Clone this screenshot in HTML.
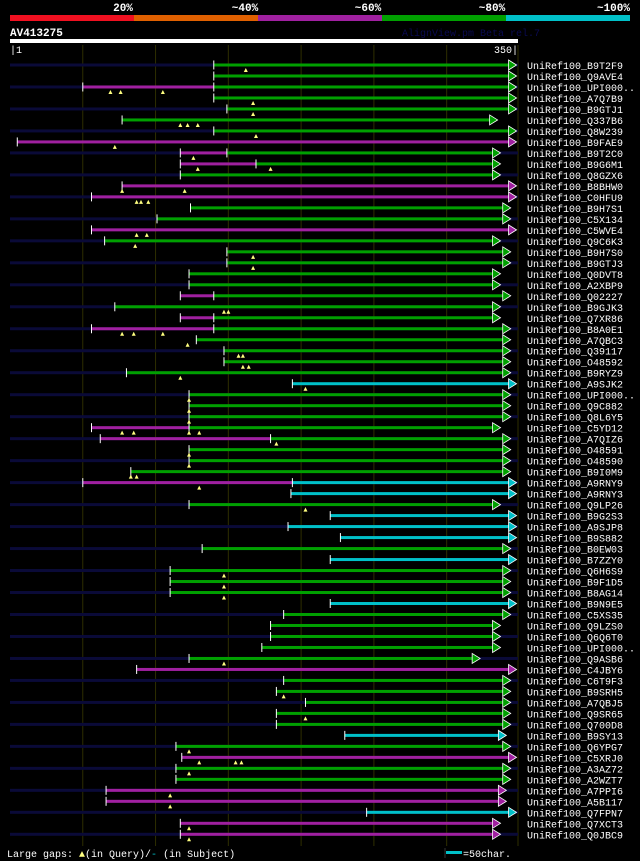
<!DOCTYPE html>
<html><head><meta charset="utf-8"><style>
html,body{margin:0;padding:0;background:#000;}
svg{display:block;}
text{font-family:"Liberation Mono","DejaVu Sans Mono",monospace;}
</style></head><body>
<svg id="chart" width="640" height="861" xmlns="http://www.w3.org/2000/svg">
<rect x="0" y="0" width="640" height="861" fill="#000"/>
<g>
<rect x="10" y="15" width="124" height="6" fill="#f01020"/>
<rect x="134" y="15" width="124" height="6" fill="#e06000"/>
<rect x="258" y="15" width="124" height="6" fill="#a020a0"/>
<rect x="382" y="15" width="124" height="6" fill="#00a000"/>
<rect x="506" y="15" width="124" height="6" fill="#00c0c8"/>
<text x="123" y="11" fill="#fff" font-size="11" font-weight="bold" text-anchor="middle">20%</text>
<text x="245" y="11" fill="#fff" font-size="11" font-weight="bold" text-anchor="middle">~40%</text>
<text x="368" y="11" fill="#fff" font-size="11" font-weight="bold" text-anchor="middle">~60%</text>
<text x="492" y="11" fill="#fff" font-size="11" font-weight="bold" text-anchor="middle">~80%</text>
<text x="630" y="11" fill="#fff" font-size="11" font-weight="bold" text-anchor="end">~100%</text>
</g>
<text x="10" y="36" fill="#fff" font-size="11" font-weight="bold">AV413275</text>
<text x="402" y="36" fill="#0a0a50" font-size="10">AlignView.pm Beta rel.7</text>
<rect x="10" y="39" width="508" height="4" fill="#fff"/>
<text x="10" y="53" fill="#fff" font-size="10">|1</text>
<text x="518" y="53" fill="#fff" font-size="10" text-anchor="end">350|</text>
<g id="grid"></g>
<g id="rows"></g>
<g>
<text x="7" y="857" fill="#fff" font-size="10">Large gaps: <tspan fill="#ffff80">▲</tspan>(in Query)/<tspan fill="#00c0c8">-</tspan> (in Subject)</text>
<line x1="445" y1="848" x2="445" y2="858" stroke="#333"/>
<rect x="446" y="851" width="16" height="3" fill="#00c0c8"/>
<text x="463" y="857" fill="#fff" font-size="10">=50char.</text>
</g>
</svg>
<script>
const names=["B9T2F9","Q9AVE4","UPI000..","A7Q7B9","B9GTJ1","Q337B6","Q8W239","B9FAE9","B9T2C0","B9G6M1","Q8GZX6","B8BHW0","C0HFU9","B9H7S1","C5X134","C5WVE4","Q9C6K3","B9H7S0","B9GTJ3","Q0DVT8","A2XBP9","Q02227","B9GJK3","Q7XR86","B8A0E1","A7QBC3","Q39117","O48592","B9RYZ9","A9SJK2","UPI000..","Q9C882","Q8L6Y5","C5YD12","A7QIZ6","O48591","O48590","B9I0M9","A9RNY9","A9RNY3","Q9LP26","B9G2S3","A9SJP8","B9S882","B0EW03","B7ZZY0","Q6H6S9","B9F1D5","B8AG14","B9N9E5","C5XS35","Q9LZS0","Q6Q6T0","UPI000..","Q9ASB6","C4JBY6","C6T9F3","B9SRH5","A7QBJ5","Q9SR65","Q700D8","B9SY13","Q6YPG7","C5XRJ0","A3AZ72","A2WZT7","A7PPI6","A5B117","Q7FPN7","Q7XCT3","Q0JBC9"];
// alignment start / color switch / end positions (query coords 1..350)
const starts=[141,141,51,141,150,78,141,6,118,118,118,78,57,125,102,57,66,150,150,124,124,118,73,118,57,129,148,148,81,195,124,124,124,57,63,124,124,84,51,194,124,221,192,228,133,221,111,111,111,221,189,180,180,174,124,88,189,184,204,184,184,231,115,119,115,115,67,67,246,118,118];
const switches=[0,0,141,0,0,0,0,0,150,170,0,0,0,0,0,0,0,0,0,0,0,141,0,141,141,0,0,0,0,0,0,0,0,124,180,0,0,0,195,0,0,0,0,0,0,0,0,0,0,0,0,0,0,0,0,0,0,0,0,0,0,0,0,0,0,0,0,0,0,0,0];
const ends=[349,349,349,349,349,336,349,349,338,338,338,349,349,345,345,349,338,345,345,338,338,345,338,338,345,345,345,345,345,349,345,345,345,338,345,345,345,345,349,349,338,349,349,349,345,349,345,345,345,349,345,338,338,338,324,349,345,345,345,345,345,342,345,349,345,345,342,342,349,338,338];
// colour index: 0 green, 1 purple, 2 cyan ; preColors used before switch position
const colors=[0,0,0,0,0,0,0,1,0,0,0,1,1,0,0,1,0,0,0,0,0,0,0,0,0,0,0,0,0,2,0,0,0,0,0,0,0,0,2,2,0,2,2,2,0,2,0,0,0,2,0,0,0,0,0,1,0,0,0,0,0,2,0,1,0,0,1,1,2,1,1];
const preColors=[0,0,1,0,0,0,0,0,1,1,0,0,0,0,0,0,0,0,0,0,0,1,0,1,1,0,0,0,0,0,0,0,0,1,1,0,0,0,1,0,0,0,0,0,0,0,0,0,0,0,0,0,0,0,0,0,0,0,0,0,0,0,0,0,0,0,0,0,0,0,0];
// large-gap markers: [row index, query position]
const gapRows=[0,2,2,2,3,4,5,5,5,6,7,8,9,9,11,11,12,12,12,15,15,16,17,18,22,22,24,24,24,25,26,26,27,27,28,29,30,31,32,33,33,33,33,34,35,36,37,37,38,40,46,47,48,54,57,59,62,63,63,63,64,66,67,69,70];
const gapPos=[163,70,77,106,168,168,118,123,130,170,73,127,130,180,78,121,88,91,96,88,95,87,168,168,148,151,78,86,106,123,158,161,161,165,118,204,124,124,124,78,86,124,131,184,124,124,84,88,131,204,148,148,148,148,189,204,124,131,156,160,124,111,111,124,124];
const COLS=["#00a000","#a020a0","#00c0c8"];
const NS="http://www.w3.org/2000/svg";
const xs=p=>10+(p-1)*(508/349);
const ys=i=>65+i*10.99;
function mk(tag,attrs,parent){const e=document.createElementNS(NS,tag);for(const k in attrs)e.setAttribute(k,attrs[k]);parent.appendChild(e);return e;}
const grid=document.getElementById('grid');
for(let p=51;p<=301;p+=50){
  const l=mk('line',{x1:xs(p),x2:xs(p),y1:45,y2:846,stroke:'#2e2e00','stroke-width':1},grid);
  
  
}
const gl=mk('line',{x1:xs(350),x2:xs(350),y1:45,y2:846,stroke:'#2e2e00','stroke-width':1},grid);


const rows=document.getElementById('rows');
names.forEach((n,i)=>{
  const g=mk('g',{},rows);
  
  
  const y=ys(i);
  if(i%2===0){
    const b=mk('rect',{x:10,y:y-1.5,width:xs(350)-10,height:3,fill:'#0a0a38'},g);
    
    
  }
  const s=starts[i],e=ends[i],sw=switches[i];
  if(sw>0){
    const p=mk('rect',{x:xs(s),y:y-1.5,width:xs(sw)-xs(s),height:3,fill:COLS[preColors[i]]},g);
    
    
  }
  const m0=sw>0?sw:s;
  const seg=mk('rect',{x:xs(m0),y:y-1.5,width:xs(e)-xs(m0)-6,height:3,fill:COLS[colors[i]]},g);
  
  
  const ax=xs(e);
  const ar=mk('polygon',{points:`${ax-8},${y-5} ${ax},${y} ${ax-8},${y+5}`,fill:COLS[colors[i]],stroke:'#fff','stroke-width':0.8},g);
  
  
  const t=mk('line',{x1:xs(s),x2:xs(s),y1:y-4.5,y2:y+4.5,stroke:'#fff','stroke-width':1},g);
  
  
  if(sw>0){
    const t2=mk('line',{x1:xs(sw),x2:xs(sw),y1:y-4.5,y2:y+4.5,stroke:'#fff','stroke-width':1},g);
    
    
  }
  const lb=mk('text',{x:527,y:y+4,fill:'#fff','font-size':10},g);
  lb.textContent='UniRef100_'+n;
  
  
});
gapRows.forEach((r,k)=>{
  const x=xs(gapPos[k]),y=ys(r);
  const m=mk('polygon',{points:`${x-2},${y+7} ${x},${y+3} ${x+2},${y+7}`,fill:'#ffff80'},rows);
  
  
});
</script>
</body></html>
